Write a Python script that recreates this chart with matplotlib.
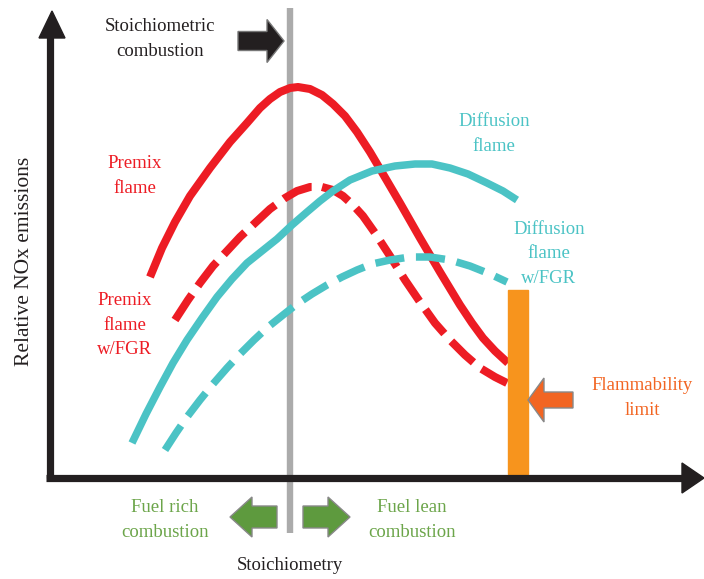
import numpy as np
import matplotlib as mpl
mpl.use("Agg")
import matplotlib.pyplot as plt
from matplotlib.patches import Polygon, Rectangle

mpl.rcParams['lines.scale_dashes'] = False
mpl.rcParams['font.family'] = ['Liberation Serif', 'DejaVu Serif']

# curve points (pixel-like units, y down)
premix_x = [150, 162, 175, 190, 210, 230, 247, 260, 270, 280, 290, 298, 310, 322, 333, 345, 357, 370, 383, 400, 420, 440, 460, 472, 483, 495, 508]
premix_y = [277, 248, 222, 196, 168, 142, 123, 108, 99, 92, 88, 87, 89, 95, 104, 116, 132, 152, 174, 203, 238, 272, 305, 323, 338, 351, 363]

premix_fgr_x = [175, 188, 200, 213, 227, 240, 255, 270, 285, 297, 310, 322, 333, 343, 353, 363, 375, 390, 405, 420, 435, 450, 465, 480, 495, 507]
premix_fgr_y = [320, 300, 283, 266, 251, 237, 223, 209, 198, 191, 187, 187, 190, 196, 205, 216, 233, 256, 280, 302, 323, 340, 355, 368, 377, 383]

diff_x = [132, 146, 160, 173, 187, 202, 217, 232, 247, 262, 277, 292, 307, 320, 333, 350, 372, 395, 415, 432, 450, 468, 487, 503, 517]
diff_y = [443, 414, 387, 363, 340, 318, 297, 279, 263, 251, 239, 225, 212, 201, 191, 180, 171, 166, 164, 164, 168, 174, 183, 191, 200]

diff_fgr_x = [165, 176, 187, 200, 213, 227, 240, 254, 268, 283, 297, 312, 327, 342, 357, 372, 390, 410, 430, 450, 470, 490, 507]
diff_fgr_y = [450, 433, 417, 400, 384, 368, 354, 340, 327, 315, 304, 294, 285, 277, 270, 264, 260, 257, 257, 260, 266, 274, 282]

curve_labels = ['Premix\nflame', 'Premix\nflame\nw/FGR', 'Diffusion\nflame', 'Diffusion\nflame\nw/FGR']
label_pos = [(135, 176), (125, 325), (494, 134), (549, 254)]

red = '#ED1C24'
cyan = '#4BC3C5'
orange_bar = '#F7941D'
orange = '#F26522'
green = '#5E9A3E'
green_txt = '#6CA54A'
black = '#231F20'
gray = '#ABABAB'

fig = plt.figure(figsize=(7.04, 5.79), dpi=100)
ax = fig.add_axes([0, 0, 1, 1])
ax.set_xlim(0, 704)
ax.set_ylim(579, 0)
ax.axis('off')

# stoichiometric line
ax.plot([290, 290], [8, 533], color=gray, lw=4.6, solid_capstyle='butt', zorder=2)

# flammability limit bar
ax.add_patch(Rectangle((508, 290), 20, 184, color=orange_bar, zorder=4))

# curves
ax.plot(premix_x, premix_y, color=red, lw=5.8, solid_capstyle='butt', solid_joinstyle='round', zorder=3)
ax.plot(premix_fgr_x, premix_fgr_y, color=red, lw=5.8, dashes=[22, 7.5], dash_capstyle='butt', zorder=3)
ax.plot(diff_x, diff_y, color=cyan, lw=5.4, solid_capstyle='butt', solid_joinstyle='round', zorder=3)
ax.plot(diff_fgr_x, diff_fgr_y, color=cyan, lw=5.4, dashes=[21, 8.5], dash_capstyle='butt', zorder=3)

# axes arrows
ax.plot([50, 50], [478, 32], color=black, lw=5.2, solid_capstyle='butt', zorder=5)
ax.plot([46, 685], [478, 478], color=black, lw=5.2, solid_capstyle='butt', zorder=5)
ax.add_patch(Polygon([[39, 38], [65, 38], [52, 11]], closed=True, color=black, zorder=5))
ax.add_patch(Polygon([[682, 463], [682, 493], [704, 478]], closed=True, color=black, zorder=5))


def block_arrow(x0, x1, yc, body_h, head_h, head_len, color, edge):
    # x0 = tail, x1 = tip
    d = 1 if x1 > x0 else -1
    xb = x1 - d * head_len
    pts = [[x0, yc - body_h / 2], [xb, yc - body_h / 2], [xb, yc - head_h / 2],
           [x1, yc], [xb, yc + head_h / 2], [xb, yc + body_h / 2], [x0, yc + body_h / 2]]
    ax.add_patch(Polygon(pts, closed=True, facecolor=color, edgecolor=edge, lw=1, zorder=6))


block_arrow(238, 284, 41, 19, 43, 17, black, '#777777')
block_arrow(573, 528, 400, 16, 44, 16, orange, '#888888')
block_arrow(277, 230, 517, 22, 40, 22, green, '#888888')
block_arrow(303, 350, 517, 22, 40, 22, green, '#888888')

# text
fs = 13.5
ls = 1.6
ax.text(160, 39, 'Stoichiometric\ncombustion', ha='center', va='center', fontsize=fs, color=black, linespacing=ls)
colors = [red, red, cyan, cyan]
for lab, (x, y), c in zip(curve_labels, label_pos, colors):
    ax.text(x, y, lab, ha='center', va='center', fontsize=fs, color=c, linespacing=ls)
ax.text(642, 398, 'Flammability\nlimit', ha='center', va='center', fontsize=fs, color=orange, linespacing=ls)
ax.text(165, 520, 'Fuel rich\ncombustion', ha='center', va='center', fontsize=fs, color=green_txt, linespacing=ls)
ax.text(412, 520, 'Fuel lean\ncombustion', ha='center', va='center', fontsize=fs, color=green_txt, linespacing=ls)
ax.text(290, 565, 'Stoichiometry', ha='center', va='center', fontsize=fs, color=black)
ax.text(25, 261, 'Relative NOx emissions', ha='center', va='center', fontsize=15.5, color=black, rotation=90)

fig.savefig('out.png', dpi=100)
